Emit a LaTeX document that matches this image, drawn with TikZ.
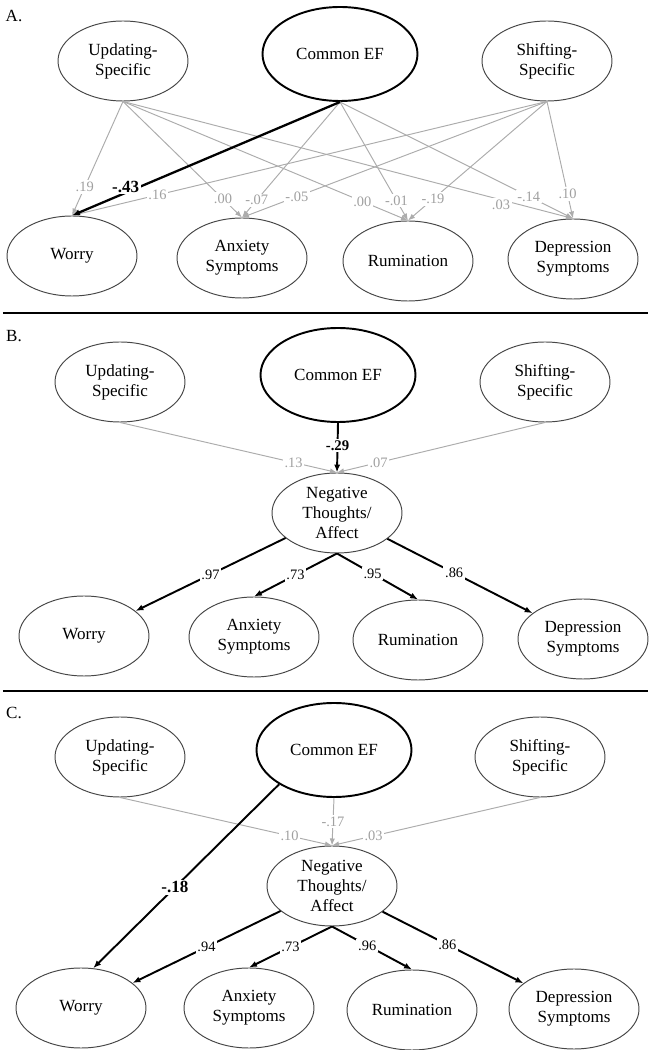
\documentclass[tikz,border=0pt]{standalone}
\usepackage{fontspec}
\setmainfont{Liberation Serif}
\usetikzlibrary{shapes.geometric,arrows.meta}

\begin{document}
\begin{tikzpicture}[
  latent/.style={ellipse,draw=edgecolor,line width=0.55pt,minimum width=2.6cm,minimum height=1.6cm,inner sep=0pt,align=center,font=\fontsize{9.7}{11.4}\selectfont},
  common/.style={latent,draw=black,line width=1.1pt,minimum width=3.1cm,minimum height=1.88cm},
  weak/.style={draw=weakcolor,line width=0.55pt,-{Latex[length=4pt,width=3pt]}},
  strong/.style={draw=black,line width=1.1pt,-{Latex[length=4.5pt,width=3.5pt]}},
  weakcoef/.style={fill=white,inner sep=1pt,text=labelcolor,font=\fontsize{8.2}{9}\selectfont},
  strongcoef/.style={fill=white,inner sep=1pt,font=\fontsize{8.2}{9}\selectfont},
  boldcoef/.style={fill=white,inner sep=1pt,font=\fontsize{8.4}{9}\selectfont\bfseries},
  headcoef/.style={fill=white,inner sep=1pt,font=\fontsize{9.7}{11}\selectfont\bfseries},
  panel/.style={font=\fontsize{9.7}{11}\selectfont}
]
\definecolor{edgecolor}{RGB}{70,70,70}
\definecolor{weakcolor}{RGB}{172,172,172}
\definecolor{labelcolor}{RGB}{160,160,160}
\useasboundingbox (0,0) rectangle (13,21);

\node (labA) [panel] at (0.28,20.68) {A.};
\node (updA) [latent] at (2.46,19.78) {Updating-\\Specific};
\node (comA) [common] at (6.80,19.92) {Common EF};
\node (shiA) [latent] at (10.94,19.78) {Shifting-\\Specific};
\node (worA) [latent] at (1.44,15.88) {Worry};
\node (anxA) [latent] at (4.84,15.84) {Anxiety\\Symptoms};
\node (rumA) [latent] at (8.16,15.78) {Rumination};
\node (depA) [latent] at (11.46,15.82) {Depression\\Symptoms};
\draw (updA.south) [weak] -- (worA.north) node [weakcoef,pos=0.75] {.19};
\draw (updA.south) [weak] -- (anxA.north) node [weakcoef,pos=0.84] {.00};
\draw (updA.south) [weak] -- (rumA.north) node [weakcoef,pos=0.84] {.00};
\draw (updA.south) [weak] -- (depA.north) node [weakcoef,pos=0.84,yshift=-0.1cm] {.03};
\draw (comA.south) [weak] -- (anxA.north) node [weakcoef,pos=0.85] {-.07};
\draw (comA.south) [weak] -- (rumA.north) node [weakcoef,pos=0.83] {-.01};
\draw (comA.south) [weak] -- (depA.north) node [weakcoef,pos=0.81] {-.14};
\draw (shiA.south) [weak] -- (worA.north) node [weakcoef,pos=0.82] {.16};
\draw (shiA.south) [weak] -- (anxA.north) node [weakcoef,pos=0.82] {-.05};
\draw (shiA.south) [weak] -- (rumA.north) node [weakcoef,pos=0.82] {-.19};
\draw (shiA.south) [weak] -- (depA.north) node [weakcoef,pos=0.79] {.10};
\draw (comA.south) [strong,line width=1.3pt] -- (worA.north) node [headcoef,pos=0.8,yshift=0.12cm] {-.43};
\draw (0.06,14.74) [line width=1.2pt] -- (12.96,14.74);

\node (labB) [panel] at (0.28,14.28) {B.};
\node (updB) [latent] at (2.40,13.36) {Updating-\\Specific};
\node (comB) [common] at (6.76,13.50) {Common EF};
\node (shiB) [latent] at (10.90,13.36) {Shifting-\\Specific};
\node (ntaB) [latent] at (6.74,10.74) {Negative\\Thoughts/\\Affect};
\node (worB) [latent] at (1.68,8.28) {Worry};
\node (anxB) [latent] at (5.08,8.26) {Anxiety\\Symptoms};
\node (rumB) [latent] at (8.36,8.20) {Rumination};
\node (depB) [latent] at (11.66,8.22) {Depression\\Symptoms};
\draw (updB.south) [weak] -- (ntaB.north) node [weakcoef,pos=0.8] {.13};
\draw (shiB.south) [weak] -- (ntaB.north) node [weakcoef,pos=0.8] {.07};
\draw (comB.south) [strong] -- (ntaB.north) node [boldcoef,pos=0.45] {-.29};
\draw (ntaB) [strong] -- (worB) node [strongcoef,pos=0.5] {.97};
\draw (ntaB.south) [strong] -- (anxB.north) node [strongcoef,pos=0.5] {.73};
\draw (ntaB.south) [strong] -- (rumB.north) node [strongcoef,pos=0.44] {.95};
\draw (ntaB) [strong] -- (depB) node [strongcoef,pos=0.46] {.86};
\draw (0.06,7.18) [line width=1.2pt] -- (12.96,7.18);

\node (labC) [panel] at (0.28,6.74) {C.};
\node (updC) [latent] at (2.40,5.86) {Updating-\\Specific};
\node (comC) [common] at (6.68,6.00) {Common EF};
\node (shiC) [latent] at (10.80,5.86) {Shifting-\\Specific};
\node (ntaC) [latent] at (6.64,3.28) {Negative\\Thoughts/\\Affect};
\node (worC) [latent] at (1.62,0.84) {Worry};
\node (anxC) [latent] at (4.98,0.84) {Anxiety\\Symptoms};
\node (rumC) [latent] at (8.24,0.80) {Rumination};
\node (depC) [latent] at (11.48,0.82) {Depression\\Symptoms};
\draw (updC.south) [weak] -- (ntaC.north) node [weakcoef,pos=0.8] {.10};
\draw (comC.south) [weak] -- (ntaC.north) node [weakcoef,pos=0.5] {-.17};
\draw (shiC.south) [weak] -- (ntaC.north) node [weakcoef,pos=0.8] {.03};
\draw (comC.212) [strong] -- (worC.73) node [headcoef,pos=0.56] {-.18};
\draw (ntaC) [strong] -- (worC) node [strongcoef,pos=0.5] {.94};
\draw (ntaC.south) [strong] -- (anxC.north) node [strongcoef,pos=0.5] {.73};
\draw (ntaC.south) [strong] -- (rumC.north) node [strongcoef,pos=0.44] {.96};
\draw (ntaC) [strong] -- (depC) node [strongcoef,pos=0.46] {.86};
\end{tikzpicture}
\end{document}
